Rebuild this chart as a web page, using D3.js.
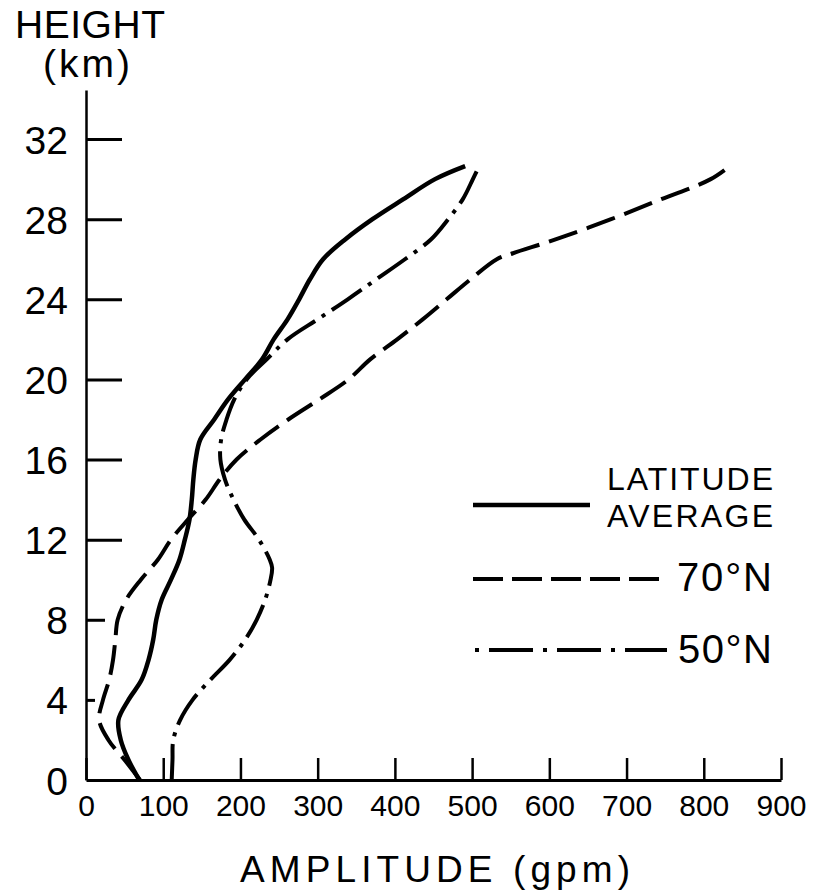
<!DOCTYPE html>
<html>
<head>
<meta charset="utf-8">
<script src="https://cdn.jsdelivr.net/npm/d3@7"></script>
<style>
body { margin: 0; background: #fff; }
svg { display: block; }
</style>
</head>
<body>
<div class="amplitudeGraph"></div>
<script>
// [height km, amplitude gpm]
const avgPoints = [
    [0, 69], [1, 55], [2, 45], [3, 42], [4, 55], [5, 72], [6, 81], [7, 87], [8, 91],
    [9, 98], [10, 110], [11, 121], [12, 128], [13, 134], [14, 137], [15, 139], [16, 142],
    [17, 148], [18, 166], [19, 184], [20, 206], [21, 228], [22, 243], [23, 261], [24, 276],
    [25, 290], [26, 307], [27, 336], [28, 371], [29, 411], [30, 452], [30.65, 491]
];
const n70Points = [
    [0, 70], [1, 50], [2, 29], [3, 17], [4, 22], [5, 30], [6, 35], [7, 38], [8, 41],
    [9, 52], [10, 71], [11, 93], [12, 110], [13, 132], [14, 155], [15, 173], [16, 195],
    [17, 226], [18, 262], [19, 302], [20, 340], [21, 368], [22, 403], [23, 436], [24, 467],
    [25, 498], [26, 532], [26.3, 553], [27, 609], [28, 680], [29, 745], [30, 809], [30.75, 837]
];
const n50Points = [
    [0, 111], [1, 112], [2, 113], [3, 122], [4, 138], [5, 161], [6, 186], [7, 206], [8, 221],
    [9, 232], [10, 239], [10.6, 241], [11, 238], [12, 224], [13, 205], [14, 191], [15, 180],
    [16, 174], [17, 175], [18, 182], [19, 192], [20, 208], [21, 234], [22, 261], [23, 300],
    [24, 339], [25, 376], [26, 413], [27, 447], [28, 469], [29, 488], [30, 501], [30.4, 506]
];
const xTicks = [0, 100, 200, 300, 400, 500, 600, 700, 800, 900];
const yTicks = [0, 4, 8, 12, 16, 20, 24, 28, 32];
const legendNames = [['LATITUDE', 'AVERAGE'], ['70°N'], ['50°N']];

function amplitudeGraph() {
    const width = 814, height = 893;
    const font = "'Liberation Sans', Arial, sans-serif";

    const svg = d3.select('.amplitudeGraph')
        .append('svg')
        .attr('width', width)
        .attr('height', height)
        .style('font-family', font);

    // Horizontal scale
    const scaleX = d3.scaleLinear()
        .domain([0, 900])
        .range([86, 781]);

    // Vertical scale (axis line runs a bit above 32)
    const scaleY = d3.scaleLinear()
        .domain([0, 34.45])
        .range([780, 90]);

    const xAxis = svg.append('g')
        .attr('transform', `translate(0, ${scaleY(0)})`)
        .call(d3.axisBottom(scaleX).tickValues(xTicks).tickSize(-22).tickSizeOuter(0).tickPadding(15))
        .attr('font-family', font)
        .attr('font-size', 30);
    xAxis.select('.domain').attr('stroke-width', 3);
    xAxis.selectAll('.tick line').attr('stroke-width', 2.5);

    const yAxis = svg.append('g')
        .attr('transform', `translate(${scaleX(0)}, 0)`)
        .call(d3.axisLeft(scaleY).tickValues(yTicks).tickSize(-36).tickSizeOuter(0).tickPadding(18))
        .attr('font-family', font)
        .attr('font-size', 39);
    yAxis.select('.domain').attr('stroke-width', 2.5);
    // short ticks at 4 and 8 km, none at 0
    yAxis.selectAll('.tick line')
        .attr('stroke-width', 3)
        .attr('x2', d => d === 0 ? 0 : d === 4 ? 9 : d === 8 ? 19 : 36);
    yAxis.selectAll('.tick text').attr('dy', '0.36em');

    // axis titles
    svg.append('text').attr('x', 15).attr('y', 38)
        .attr('font-size', 39).attr('textLength', 150).attr('lengthAdjust', 'spacing')
        .text('HEIGHT');
    svg.append('text').attr('x', 43).attr('y', 77)
        .attr('font-size', 39).attr('textLength', 87).attr('lengthAdjust', 'spacing')
        .text('(km)');
    svg.append('text').attr('x', 240).attr('y', 882)
        .attr('font-size', 37).attr('textLength', 390).attr('lengthAdjust', 'spacing')
        .text('AMPLITUDE (gpm)');

    const line = d3.line()
        .x(d => scaleX(d[1]))
        .y(d => scaleY(d[0]))
        .curve(d3.curveCatmullRom.alpha(0.5));

    const series = [
        { points: avgPoints, dash: null, width: 4.5, legendDash: null },
        { points: n70Points, dash: '30,10', width: 4, legendDash: '30,9' },
        { points: n50Points, dash: '36,8,4,8', width: 4, legendDash: '4,10,44,10' }
    ];

    svg.append('g')
        .selectAll('path')
        .data(series)
        .join('path')
        .attr('d', d => line(d.points))
        .attr('fill', 'none')
        .attr('stroke', '#000')
        .attr('stroke-width', d => d.width)
        .attr('stroke-dasharray', d => d.dash);

    // legend
    const legend = svg.append('g');
    const legendLines = [[473, 590, 505], [473, 663, 579], [475, 667, 650]];
    legend.selectAll('line')
        .data(series)
        .join('line')
        .attr('x1', (d, i) => legendLines[i][0])
        .attr('x2', (d, i) => legendLines[i][1])
        .attr('y1', (d, i) => legendLines[i][2])
        .attr('y2', (d, i) => legendLines[i][2])
        .attr('stroke', '#000')
        .attr('stroke-width', d => d.width)
        .attr('stroke-dasharray', d => d.legendDash);

    legend.append('text').attr('x', 607).attr('y', 490)
        .attr('font-size', 32).attr('textLength', 166).attr('lengthAdjust', 'spacing')
        .text(legendNames[0][0]);
    legend.append('text').attr('x', 607).attr('y', 527)
        .attr('font-size', 32).attr('textLength', 166).attr('lengthAdjust', 'spacing')
        .text(legendNames[0][1]);
    legend.append('text').attr('x', 677).attr('y', 591)
        .attr('font-size', 40).attr('textLength', 95).attr('lengthAdjust', 'spacing')
        .text(legendNames[1][0]);
    legend.append('text').attr('x', 678).attr('y', 663)
        .attr('font-size', 40).attr('textLength', 94).attr('lengthAdjust', 'spacing')
        .text(legendNames[2][0]);
}

amplitudeGraph();
</script>
</body>
</html>
